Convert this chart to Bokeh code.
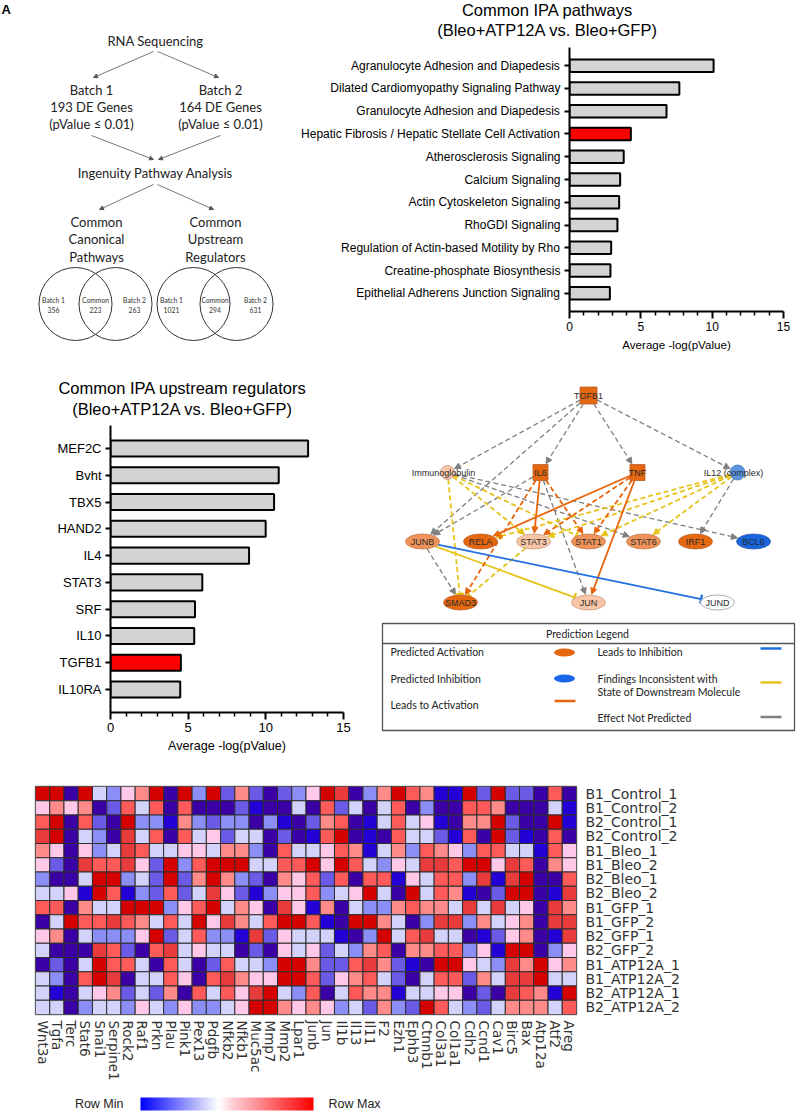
import math
import numpy as np
from bokeh.plotting import figure
from bokeh.models import (Range1d, FactorRange, FixedTicker, Arrow,
                          NormalHead, TeeHead, LinearColorMapper, ColumnDataSource)
from bokeh.transform import linear_cmap
from bokeh.layouts import row, column
from bokeh.embed import file_html
from bokeh.resources import INLINE
from bokeh.core.properties import value

# ---------------- data ----------------
batches = ["Batch 1", "Batch 2"]
de_genes = [193, 164]
p_cut = "0.01"
venn_pathways = [356, 223, 263]      # batch 1 only, common, batch 2 only
venn_regulators = [1021, 294, 631]

pathways = ["Agranulocyte Adhesion and Diapedesis",
            "Dilated Cardiomyopathy Signaling Pathway",
            "Granulocyte Adhesion and Diapedesis",
            "Hepatic Fibrosis / Hepatic Stellate Cell Activation",
            "Atherosclerosis Signaling",
            "Calcium Signaling",
            "Actin Cytoskeleton Signaling",
            "RhoGDI Signaling",
            "Regulation of Actin-based Motility by Rho",
            "Creatine-phosphate Biosynthesis",
            "Epithelial Adherens Junction Signaling"]
pathway_values = [10.1, 7.7, 6.8, 4.3, 3.8, 3.55, 3.48, 3.36, 2.92, 2.87, 2.83]
pathway_highlight = "Hepatic Fibrosis / Hepatic Stellate Cell Activation"

regulators = ["MEF2C", "Bvht", "TBX5", "HAND2", "IL4", "STAT3", "SRF", "IL10", "TGFB1", "IL10RA"]
regulator_values = [12.72, 10.83, 10.53, 9.99, 8.92, 5.91, 5.44, 5.39, 4.53, 4.49]
regulator_highlight = "TGFB1"

net_nodes = ["TGFB1", "Immunoglobulin", "IL6", "TNF", "IL12 (complex)", "JUNB", "RELA",
             "STAT3", "STAT1", "STAT6", "IRF1", "BCL6", "SMAD3", "JUN", "JUND"]
net_state = [3, 1, 3, 3, -2, 2, 3, 1, 2, 2, 3, -3, 3, 1, 0]   # predicted activation level
# (source, target, relation, dashed, head)
net_edges = [
    ("TGFB1", "Immunoglobulin", "none", True, "arrow"),
    ("TGFB1", "JUNB", "none", True, "arrow"),
    ("TGFB1", "IL6", "none", True, "arrow"),
    ("TGFB1", "TNF", "none", True, "arrow"),
    ("TGFB1", "IL12 (complex)", "none", True, "arrow"),
    ("IL6", "JUNB", "none", True, "arrow"),
    ("IL6", "JUN", "none", True, "arrow"),
    ("Immunoglobulin", "STAT6", "none", True, "arrow"),
    ("Immunoglobulin", "BCL6", "none", True, "arrow"),
    ("IL12 (complex)", "IRF1", "none", True, "arrow"),
    ("JUNB", "SMAD3", "none", True, "arrow"),
    ("Immunoglobulin", "STAT3", "inconsistent", True, "arrow"),
    ("Immunoglobulin", "STAT1", "inconsistent", True, "tee"),
    ("Immunoglobulin", "SMAD3", "inconsistent", True, "tee"),
    ("IL12 (complex)", "RELA", "inconsistent", True, "arrow"),
    ("IL12 (complex)", "STAT3", "inconsistent", True, "arrow"),
    ("IL12 (complex)", "STAT1", "inconsistent", True, "arrow"),
    ("IL12 (complex)", "STAT6", "inconsistent", True, "arrow"),
    ("STAT3", "SMAD3", "inconsistent", True, "tee"),
    ("JUNB", "JUN", "inconsistent", False, "tee"),
    ("IL6", "SMAD3", "activation", True, "arrow"),
    ("IL6", "STAT1", "activation", True, "arrow"),
    ("TNF", "STAT3", "activation", True, "arrow"),
    ("TNF", "STAT1", "activation", True, "arrow"),
    ("IL6", "STAT3", "activation", False, "arrow"),
    ("TNF", "RELA", "activation", False, "arrow"),
    ("TNF", "JUN", "activation", False, "arrow"),
    ("JUNB", "JUND", "inhibition", False, "tee"),
]

genes = ["Wnt3a", "Tgfa", "Terc", "Stat6", "Snai1", "Serpine1", "Rock2", "Raf1", "Prkn", "Plau",
         "Pink1", "Pex13", "Pdgfb", "Nfkb2", "Nfkb1", "Muc5ac", "Mmp7", "Mmp2", "Lpar1", "Junb",
         "Jun", "Il1b", "Il13", "Il11", "F2", "Ezh1", "Ephb3", "Ctnnb1", "Col3a1", "Col1a1",
         "Cdh2", "Ccnd1", "Cav1", "Birc5", "Bax", "Atp12a", "Atf2", "Areg"]
samples = ["B1_Control_1", "B1_Control_2", "B2_Control_1", "B2_Control_2",
           "B1_Bleo_1", "B1_Bleo_2", "B2_Bleo_1", "B2_Bleo_2",
           "B1_GFP_1", "B1_GFP_2", "B2_GFP_1", "B2_GFP_2",
           "B1_ATP12A_1", "B1_ATP12A_2", "B2_ATP12A_1", "B2_ATP12A_2"]
# row-relative expression level (-5 = row min ... +5 = row max), one list per sample
expr = [
    [5, 5, -4, 5, -1, -2, 1, 2, 5, -4, 5, -2, 5, -3, 2, -3, -4, -3, -2, 1, 5, 4, -4, -2, 2, 5, 3, 2, -5, -5, 5, -3, 5, -3, -3, -4, 3, -4],
    [1, 2, 1, 2, -4, -3, 3, -1, 3, -4, 3, -4, -4, -4, -3, -5, -4, -4, -1, -4, 3, -3, -1, -4, -1, 3, -4, -2, -4, -4, 3, 3, 2, -4, -4, -4, -1, -5],
    [3, 5, -4, 3, -3, -4, 5, -2, -2, -5, 2, -2, -3, -2, -2, -4, -2, -5, -4, -3, 2, 3, -4, -5, -1, 3, -1, 1, -5, -4, 2, 2, 5, -3, -4, -4, 5, -5],
    [4, 5, -4, -1, -2, -4, 4, -1, 3, -4, 3, -1, 1, -3, -1, -1, -4, -3, -4, -5, 3, 5, -4, -5, -4, 3, -1, -1, -3, -5, 3, -4, 5, -3, -5, -4, 3, -4],
    [2, 1, -4, 1, -2, -1, 4, 3, -1, -1, 1, 1, -1, 2, 2, -2, -4, 3, -1, -1, 1, 3, 2, -5, -1, 2, -2, 3, 2, 1, -2, 3, 3, -1, -1, -5, 3, 1],
    [1, -3, -4, 4, 3, 3, 4, 1, -3, 5, -2, 3, 5, 5, 5, -1, -1, 3, 3, 5, 1, 5, 3, -1, -2, 1, -1, 4, 4, 3, 5, 5, 1, 4, 3, -4, 2, 1],
    [-2, -4, -4, -1, 5, 5, -2, -1, -3, 5, -3, 2, 5, 2, -2, -3, -4, 2, 1, 3, -3, 3, -4, 3, 3, -5, 1, -1, 3, 3, -2, 4, -5, 4, 5, -4, -4, 3],
    [-1, -1, 1, -5, 5, 3, -5, -2, -3, 3, -3, -1, 4, 1, -3, -5, -2, 1, 1, 3, -2, -1, 1, 5, -1, -4, 5, -1, 3, 2, -5, -4, -3, 5, 5, -4, -5, 4],
    [3, 3, -4, 2, -1, -1, 5, 5, 5, -2, 1, 3, 5, -1, 2, 1, -4, 4, 1, -5, 2, -4, -1, -2, -2, 2, 3, 2, 2, -1, 4, -1, 4, -1, 1, -4, 4, 2],
    [-4, -1, 5, 3, 3, 4, 3, 2, -1, 3, -1, 5, 1, 4, 2, -1, 3, 5, 5, 3, -5, -4, 5, 5, 2, -1, -4, -2, 4, 4, -2, 2, -1, 1, 2, -4, 4, 4],
    [1, 2, -4, -1, -2, -2, -2, 1, 5, -3, -1, 3, -2, -2, -5, 4, -3, 1, -1, -1, -1, -5, -4, -2, 5, -1, 3, 4, -1, -1, -4, -5, -3, 1, 2, -4, -5, 4],
    [-1, -4, -4, -4, 4, 3, -3, -4, 3, 4, -1, 1, -1, -1, -4, -3, -4, 1, -1, 1, -3, -1, -2, 2, 3, -4, 2, 2, 3, 3, -2, 1, -5, 5, 5, -4, -2, 1],
    [-4, -3, -4, -1, 5, 3, 3, -1, -4, 3, -1, -4, -3, 3, -1, -1, -2, 5, 5, 2, -3, -3, 3, 4, 2, -3, -5, -4, 5, 5, 1, -1, -2, 4, 2, 5, 1, 2],
    [-1, -2, -4, 3, 5, 4, -4, -1, -1, 3, 1, -4, 3, 4, 2, 1, 1, 5, 5, 3, -3, 1, 2, 3, -1, -3, -4, -1, 3, 3, -3, 2, -1, 4, 4, 5, -1, -1],
    [-1, -5, -4, -1, 1, 2, -3, -1, -3, 2, -4, 3, -1, 3, 1, 4, 5, -1, -2, 3, -4, -1, 3, 2, 2, -5, -1, -1, 1, 1, -4, -3, -4, 4, 3, 2, -5, 5],
    [-1, -1, -4, -2, -1, -1, -2, 1, -1, -2, 1, -2, -2, -1, 1, 5, 5, 2, 1, 2, 1, -2, -1, -3, 2, -2, -3, 5, 3, -1, -2, -3, -1, 2, 2, 2, -1, 3],
]

# ---------------- styles ----------------
ARIAL = "Liberation Sans"
CAL = "Lato"
W = 796


def no_align(p):
    try:
        p.frame_align = False
    except Exception:
        pass
    return p


def canvas(x0, x1, y0, y1):
    p = figure(width=int(x1 - x0), height=int(y1 - y0),
               x_range=Range1d(x0, x1), y_range=Range1d(y1, y0),
               output_backend="svg", toolbar_location=None, min_border=0,
               x_axis_location=None, y_axis_location=None)
    p.grid.visible = False
    p.outline_line_color = None
    p.background_fill_color = "white"
    p.border_fill_color = "white"
    return no_align(p)


def txt(p, x, y, s, size, font=CAL, color="#222222", align="center",
        baseline="middle", style="normal"):
    p.text(x=[x], y=[y], text=[s], text_font=value(font), text_font_size=size,
           text_color=color, text_align=align, text_baseline=baseline,
           text_font_style=style)


def arrow(p, x0, y0, x1, y1, color, width, dash="solid", head="arrow", size=6, level="annotation"):
    if head == "arrow":
        hd = NormalHead(size=size, fill_color=color, line_color=color, line_width=1)
    else:
        hd = TeeHead(size=size + 3, line_color=color, line_width=width + 0.5)
    p.add_layout(Arrow(end=hd, x_start=x0, y_start=y0, x_end=x1, y_end=y1,
                       line_color=color, line_width=width, line_dash=dash, level=level))


# ---------------- panel A: workflow ----------------
pa = canvas(0, 290, 0, 355)
txt(pa, 1, 1, "A", "13px", font=ARIAL, color="black", align="left", baseline="top", style="bold")
FS = "13px"
txt(pa, 155, 40, "RNA Sequencing", FS)
ax = [91, 220]
for i in range(2):
    txt(pa, ax[i], 89, batches[i], FS)
    txt(pa, ax[i], 106, f"{de_genes[i]} DE Genes", FS)
    txt(pa, ax[i], 123, f"(pValue \u2264 {p_cut})", FS)
arrow(pa, 153, 51, 93, 77, "#555555", 0.8, size=4)
arrow(pa, 157, 51, 218, 77, "#555555", 0.8, size=4)
arrow(pa, 91, 135, 153, 159, "#555555", 0.8, size=4)
arrow(pa, 220, 135, 158, 159, "#555555", 0.8, size=4)
txt(pa, 155, 172, "Ingenuity Pathway Analysis", FS)
arrow(pa, 153, 184, 99, 209, "#555555", 0.8, size=4)
arrow(pa, 157, 184, 213, 209, "#555555", 0.8, size=4)
for j, s in enumerate(["Common", "Canonical", "Pathways"]):
    txt(pa, 96, 221 + j * 17.5, s, FS)
for j, s in enumerate(["Common", "Upstream", "Regulators"]):
    txt(pa, 215, 221 + j * 17.5, s, FS)
venn_sets = [("Batch 1", 0), ("Common", 1), ("Batch 2", 2)]
for cx_pair, vals in (((75, 115), venn_pathways), ((193, 236), venn_regulators)):
    pa.circle(x=list(cx_pair), y=[303.5, 303.5], radius=36.5, fill_color=None,
              line_color="#333333", line_width=1)
    lx = [cx_pair[0] - 22, (cx_pair[0] + cx_pair[1]) / 2, cx_pair[1] + 19]
    for k, (name, idx) in enumerate(venn_sets):
        txt(pa, lx[k], 299, name, "6.8px", color="#333333")
        txt(pa, lx[k], 309, str(vals[idx]), "6.8px", color="#333333")


# ---------------- bar charts ----------------
def bar_panel(cats, vals, hl, width, height, bl, br, bt, bb, pad, bar_h,
              lab_size, x_label_size):
    fr = FactorRange(factors=list(reversed(cats)), range_padding=pad,
                     range_padding_units="absolute")
    p = figure(width=width, height=height, y_range=fr, x_range=Range1d(0, 15),
               output_backend="svg", toolbar_location=None,
               min_border_left=bl, min_border_right=br, min_border_top=bt,
               min_border_bottom=bb)
    no_align(p)
    colors = ["#ff0000" if c == hl else "#d3d3d3" for c in cats]
    src = ColumnDataSource(dict(cat=cats, val=vals, color=colors))
    p.hbar(y="cat", left=0, right="val", height=bar_h, fill_color="color",
           line_color="black", line_width=2, source=src)
    p.grid.visible = False
    p.outline_line_color = None
    p.xaxis.ticker = FixedTicker(ticks=[0, 5, 10, 15],
                                 minor_ticks=[t for t in range(16) if t % 5])
    p.xaxis.axis_label = "Average -log(pValue)"
    for a in (p.xaxis[0], p.yaxis[0]):
        a.axis_line_width = 2
        a.axis_line_color = "black"
        a.major_tick_line_width = 2
        a.major_tick_line_color = "black"
        a.major_tick_in = 0
        a.major_label_text_font = ARIAL
        a.major_label_text_color = "black"
        a.major_label_text_font_size = lab_size
    p.xaxis.major_tick_out = 7
    p.xaxis.minor_tick_out = 4
    p.xaxis.minor_tick_in = 0
    p.xaxis.minor_tick_line_width = 1.5
    p.xaxis.minor_tick_line_color = "black"
    p.xaxis.major_label_standoff = 3
    p.xaxis.axis_label_text_font = ARIAL
    p.xaxis.axis_label_text_font_style = "normal"
    p.xaxis.axis_label_text_font_size = x_label_size
    p.xaxis.axis_label_text_color = "black"
    p.xaxis.axis_label_standoff = 4
    p.yaxis.major_tick_out = 5
    p.yaxis.major_label_standoff = 4
    return p


def title_canvas(x0, x1, y0, y1, cx, ys, lines):
    p = canvas(x0, x1, y0, y1)
    for s, y in zip(lines, ys):
        txt(p, cx, y, s, "16.5px", font=ARIAL, color="black")
    return p


# panel B: frame x 569..783, y 47..311
pb_t = title_canvas(290, W, 0, 44, 547, [9, 29],
                    ["Common IPA pathways", "(Bleo+ATP12A vs. Bleo+GFP)"])
pb = bar_panel(pathways, pathway_values, pathway_highlight, W - 290, 311,
               279, 13, 3, 44, 0.3, 0.55, "12px", "11.6px")

# panel C: frame x 110..343, y 425..712
pc_t = title_canvas(0, 380, 355, 418, 182, [387, 408],
                    ["Common IPA upstream regulators", "(Bleo+ATP12A vs. Bleo+GFP)"])
pc = bar_panel(regulators, regulator_values, regulator_highlight, 380, 347,
               110, 37, 7, 53, 0.36, 0.6, "13px", "12.6px")

# ---------------- panel D: network ----------------
pd_ = canvas(380, W, 355, 765)
geom = {
    "TGFB1": (588, 395, "rect", 17, 17),
    "Immunoglobulin": (447, 472, "circ", 14, 14),
    "IL6": (540, 472, "rect", 15, 16),
    "TNF": (637, 472, "rect", 15, 16),
    "IL12 (complex)": (737, 472, "circ", 15, 15),
    "JUNB": (422, 541, "ell", 34, 15),
    "RELA": (480, 541, "ell", 34, 15),
    "STAT3": (533, 541, "ell", 34, 15),
    "STAT1": (588, 541, "ell", 34, 15),
    "STAT6": (643, 541, "ell", 34, 15),
    "IRF1": (695, 541, "ell", 34, 15),
    "BCL6": (753, 541, "ell", 34, 15),
    "SMAD3": (460, 602, "ell", 34, 15),
    "JUN": (588, 602, "ell", 34, 15),
    "JUND": (717, 602, "ell", 34, 15),
}
label_dx = {"Immunoglobulin": -4, "IL12 (complex)": -4}
state_fill = {3: "#e5670f", 2: "#f0935a", 1: "#f8c6a6", 0: "#ffffff", -2: "#5b95e2", -3: "#1764dd"}
state_line = {3: "#b9602a", 2: "#c07848", 1: "#c89a80", 0: "#9a9a9a", -2: "#4a78b8", -3: "#2a58a8"}
rel_color = {"none": "#7f7f7f", "inconsistent": "#e6c41c", "activation": "#e8650c", "inhibition": "#2070e0"}


def boundary(node, ux, uy):
    x, y, shape, w, h = geom[node]
    if shape == "rect":
        tx = (w / 2) / abs(ux) if abs(ux) > 1e-9 else 1e9
        ty = (h / 2) / abs(uy) if abs(uy) > 1e-9 else 1e9
        t = min(tx, ty)
    else:
        a, b = w / 2, h / 2
        t = 1 / math.sqrt((ux / a) ** 2 + (uy / b) ** 2)
    return x + ux * t, y + uy * t


for src_n, tgt_n, rel, dashed, head in net_edges:
    x0, y0 = geom[src_n][:2]
    x1, y1 = geom[tgt_n][:2]
    d = math.hypot(x1 - x0, y1 - y0)
    ux, uy = (x1 - x0) / d, (y1 - y0) / d
    sx, sy = boundary(src_n, ux, uy)
    ex, ey = boundary(tgt_n, -ux, -uy)
    ex -= ux * 1.0
    ey -= uy * 1.0
    c = rel_color[rel]
    lw = 1.3 if rel == "none" else 1.8
    arrow(pd_, sx, sy, ex, ey, c, lw, dash="5 3" if dashed else "solid",
          head=head, size=6, level="underlay")

for name, st in zip(net_nodes, net_state):
    x, y, shape, w, h = geom[name]
    if shape == "rect":
        pd_.rect(x=[x], y=[y], width=w, height=h, fill_color=state_fill[st],
                 line_color=state_line[st], line_width=0.8)
    else:
        pd_.ellipse(x=[x], y=[y], width=w, height=h, fill_color=state_fill[st],
                    line_color=state_line[st], line_width=0.8)
for name in net_nodes:
    x, y = geom[name][:2]
    txt(pd_, x + label_dx.get(name, 0), y + 0.5, name, "9px", font=ARIAL, color="#2a2a2a")

# legend box
pd_.quad(left=[382], right=[794], top=[623], bottom=[730], fill_color="white",
         line_color="#555555", line_width=1.3)
pd_.segment(x0=[382], y0=[643], x1=[794], y1=[643], line_color="#555555", line_width=1.3)
txt(pd_, 587, 633, "Prediction Legend", "10.5px", color="#222222")
txt(pd_, 390, 651, "Predicted Activation", "10.5px", align="left")
txt(pd_, 390, 678, "Predicted Inhibition", "10.5px", align="left")
txt(pd_, 390, 704, "Leads to Activation", "10.5px", align="left")
pd_.ellipse(x=[564, 564], y=[652, 678], width=21, height=8,
            fill_color=[state_fill[3], "#1a66e8"], line_color=None)
pd_.segment(x0=[554], y0=[700.5], x1=[575], y1=[700.5], line_color=rel_color["activation"], line_width=2.5)
txt(pd_, 597, 651, "Leads to Inhibition", "10.5px", align="left")
txt(pd_, 597, 678, "Findings Inconsistent with", "10.5px", align="left")
txt(pd_, 597, 691, "State of Downstream Molecule", "10.5px", align="left")
txt(pd_, 597, 717, "Effect Not Predicted", "10.5px", align="left")
pd_.segment(x0=[760, 760, 760], y0=[648, 682, 716.5], x1=[781, 781, 781], y1=[648, 682, 716.5],
            line_color=[rel_color["inhibition"], rel_color["inconsistent"], rel_color["none"]],
            line_width=2.5)

# ---------------- panel E: heatmap ----------------
heat_palette = ["#2200d6", "#3a00a6", "#6a5ae6", "#8b8ff5", "#d2d2fa", "#f2f0fb",
                "#ffc8e8", "#ff8a8a", "#ff5a5a", "#e83c3c", "#d50000"]
hx, hy, hv = [], [], []
for i, s in enumerate(samples):
    for j, g in enumerate(genes):
        hx.append(g)
        hy.append(s)
        hv.append(expr[i][j])
hsrc = ColumnDataSource(dict(gene=hx, sample=hy, level=hv))
pe = figure(width=W, height=330, x_range=FactorRange(factors=genes),
            y_range=FactorRange(factors=list(reversed(samples))),
            output_backend="svg", toolbar_location=None,
            x_axis_location="below", y_axis_location="right",
            min_border_left=35, min_border_right=220, min_border_top=21, min_border_bottom=81)
no_align(pe)
pe.rect(x="gene", y="sample", width=1, height=1, source=hsrc,
        fill_color=linear_cmap("level", heat_palette, -5.5, 5.5),
        line_color="#2e2e2e", line_width=1)
pe.grid.visible = False
pe.outline_line_color = "#808080"
pe.outline_line_width = 1.5
for a in (pe.xaxis[0], pe.yaxis[0]):
    a.axis_line_color = None
    a.major_tick_line_color = None
    a.minor_tick_line_color = None
    a.major_tick_out = 0
    a.major_tick_in = 0
    a.major_label_text_font = "DejaVu Sans"
    a.major_label_text_color = "#333333"
pe.yaxis.major_label_text_font_size = "14px"
pe.xaxis.major_label_text_font_size = "13.5px"
pe.yaxis.major_label_standoff = 9
pe.xaxis.major_label_standoff = 6
pe.xaxis.major_label_orientation = -math.pi / 2

# ---------------- colour bar ----------------
def lerp(c0, c1, t):
    return tuple(int(round(a + (b - a) * t)) for a, b in zip(c0, c1))


cb_pal = []
for k in range(256):
    t = k / 255
    if t < 0.45:
        c = lerp((0, 0, 255), (255, 255, 255), t / 0.45)
    elif t < 0.5:
        c = lerp((255, 255, 255), (255, 226, 232), (t - 0.45) / 0.05)
    else:
        c = lerp((255, 220, 228), (255, 0, 0), (t - 0.5) / 0.5)
    cb_pal.append("#%02x%02x%02x" % c)
pf = canvas(0, W, 1095, 1112)
pf.image(image=[np.linspace(0, 1, 256).reshape(1, 256)], x=140, y=1097, dw=173, dh=13,
         color_mapper=LinearColorMapper(palette=cb_pal, low=0, high=1))
txt(pf, 123, 1103.5, "Row Min", "12.5px", font=ARIAL, color="#222222", align="right")
txt(pf, 328, 1103.5, "Row Max", "12.5px", font=ARIAL, color="#222222", align="left")

layout = column(row(pa, column(pb_t, pb, spacing=0), spacing=0),
                row(column(pc_t, pc, spacing=0), pd_, spacing=0),
                pe, pf, spacing=0)
open("out.html", "w").write(file_html(layout, INLINE))
